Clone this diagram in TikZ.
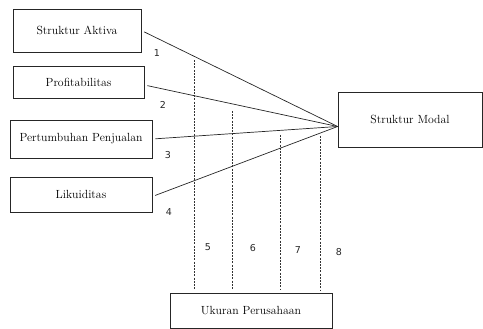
\documentclass[tikz,border=0pt]{standalone}
\usepackage{fontspec}
\newfontfamily\numfont{DejaVu Sans}
\usetikzlibrary{positioning,calc}

\begin{document}
\begin{tikzpicture}[
    x=1pt,y=-1pt,
    var/.style={rectangle,draw=black!85,line width=0.75pt,inner sep=0pt,align=center,font=\fontsize{11.8}{13}\selectfont},
    link/.style={draw=black!85,line width=0.7pt,shorten <=3pt},
    moder/.style={draw=black!80,line width=0.65pt,dash pattern=on 2pt off 1.2pt},
    num/.style={font=\numfont\fontsize{9.5}{10}\selectfont,text=black!85}
]
    \useasboundingbox (0,0) rectangle (483,329);

    \node[var,minimum width=128,minimum height=43] (aktiva) at (77,30.5) {Struktur Aktiva};
    \node[var,minimum width=131,minimum height=32] (profit) at (78.5,82) {Profitabilitas};
    \node[var,minimum width=142,minimum height=38] (tumbuh) at (81,139) {Pertumbuhan Penjualan};
    \node[var,minimum width=142,minimum height=35] (likuid) at (81,194.5) {Likuiditas};

    \node[var,minimum width=144,minimum height=55] (modal) at (410,119.5) {Struktur Modal};
    \node[var,minimum width=162,minimum height=35] (ukuran) at (251,310.5) {Ukuran Perusahaan};

    % titik temu garis di sisi kiri Struktur Modal
    \coordinate (hub) at ($(modal.west)+(0,7)$);

    \draw[link] (aktiva.east) -- (hub);
    \draw[link] ($(profit.east)+(0,3)$) -- (hub);
    \draw[link] (tumbuh.east) -- (hub);
    \draw[link] ($(likuid.east)+(0,2)$) -- (hub);

    % garis moderasi
    \coordinate (m1) at (194,60);
    \coordinate (m2) at (232,111);
    \coordinate (m3) at (280,135);
    \coordinate (m4) at (320,136);
    \foreach \m in {m1,m2,m3,m4}
        \draw[moder] (\m) -- ($(\m |- ukuran.north)+(0,-3)$);

    \node[num] (n1) at (157,53) {1};
    \node[num] (n2) at (163,105) {2};
    \node[num] (n3) at (168,155) {3};
    \node[num] (n4) at (169,212) {4};
    \node[num] (n5) at (208,247) {5};
    \node[num] (n6) at (253,248) {6};
    \node[num] (n7) at (298,250) {7};
    \node[num] (n8) at (339,252) {8};
\end{tikzpicture}
\end{document}
